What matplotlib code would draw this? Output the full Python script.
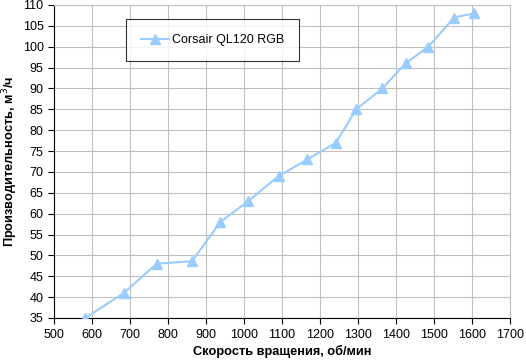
import matplotlib
matplotlib.use('Agg')
import matplotlib.pyplot as plt

# fan speed (rpm) and airflow (m3/h)
rpm = [582, 684, 770, 863, 938, 1011, 1091, 1167, 1242, 1295, 1364, 1425, 1485, 1553, 1605]
flow = [35, 41, 48, 48.6, 58, 63, 69, 73, 77, 85, 90, 96, 100, 107, 108]
series_name = 'Corsair QL120 RGB'

plt.rcParams['font.family'] = ['Liberation Sans', 'DejaVu Sans']

fig = plt.figure(figsize=(5.26, 3.63), dpi=100)
ax = fig.add_axes([54/526, 45/363, 456/526, 313/363])

line_col = '#99ccff'
ax.plot(rpm, flow, color=line_col, lw=1.5, marker='^', ms=7.5,
        markerfacecolor=line_col, markeredgecolor=line_col,
        label=series_name, zorder=5)

ax.set_xlim(500, 1700)
ax.set_ylim(35, 110)
ax.set_xticks(range(500, 1701, 100))
ax.set_yticks(range(35, 111, 5))
ax.grid(True, color='#c0c0c0', lw=0.8)
ax.set_axisbelow(True)

for s in ['top', 'right']:
    ax.spines[s].set_color('#c0c0c0')
for s in ['left', 'bottom']:
    ax.spines[s].set_color('black')
ax.tick_params(axis='both', labelsize=9, length=4, width=0.8, direction='out',
               colors='black')
ax.tick_params(axis='x', pad=4)

ax.set_xlabel('Скорость вращения, об/мин', fontsize=9.2, fontweight='bold', labelpad=3)
ax.set_ylabel('Производительность, м$^3$/ч', fontsize=9.2, fontweight='bold', labelpad=2)

leg = ax.legend(loc='upper left', bbox_to_anchor=((126-54)/456, (318-19)/313),
                frameon=True, fancybox=False, fontsize=9, borderpad=1.2,
                handlelength=2.2, handletextpad=0.25, borderaxespad=0)
leg.get_frame().set_edgecolor('black')
leg.get_frame().set_linewidth(0.8)

fig.savefig('out.png', dpi=100)
